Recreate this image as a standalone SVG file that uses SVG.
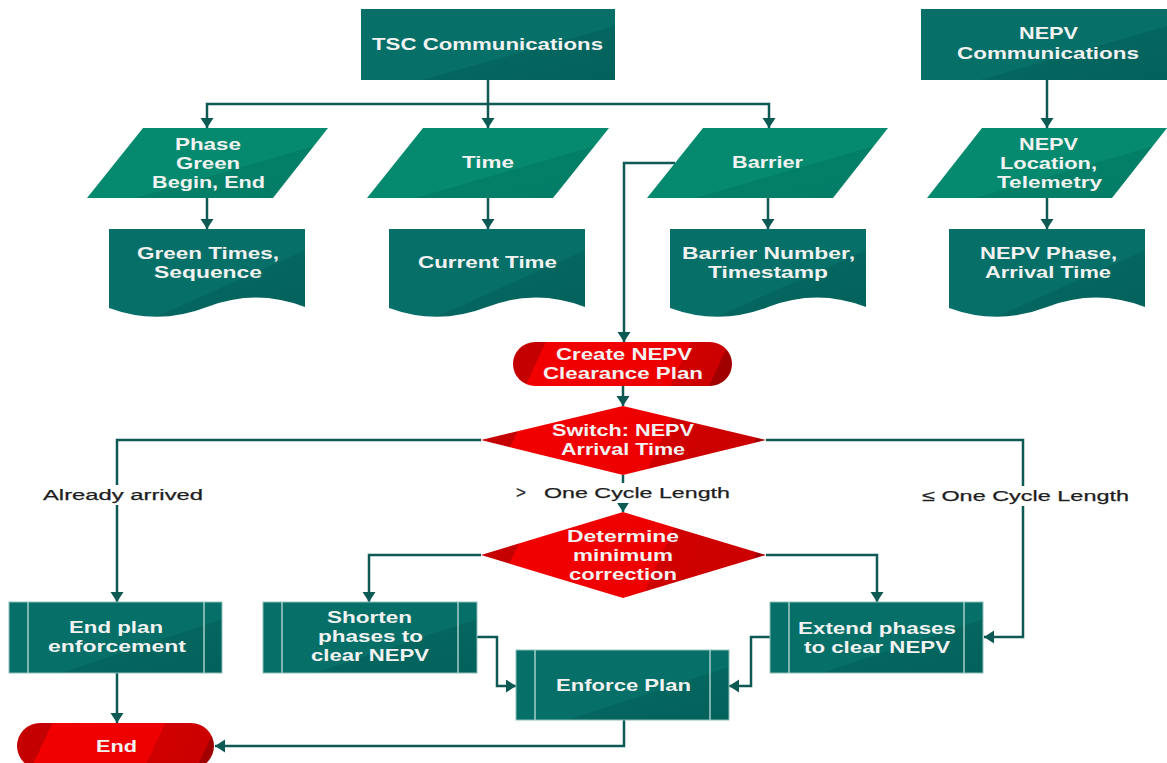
<svg xmlns="http://www.w3.org/2000/svg" width="1167" height="763" viewBox="0 0 1167 763">
<defs>
<style>
.t{font-family:"Liberation Sans",Arial,sans-serif;font-weight:bold;font-size:17px;fill:#f2f2f2}
.lbl{font-family:"Liberation Sans",Arial,sans-serif;font-size:15.5px;fill:#1e1e1e;stroke:#1e1e1e;stroke-width:0.25}
.teal{fill:url(#gTeal)}
.para{fill:url(#gPara)}
.proc{fill:url(#gTeal);stroke:#8fc0ba;stroke-width:1}
.bar{stroke:#a6cdc8;stroke-width:1.5}
.c{fill:none;stroke:#0d5a55;stroke-width:2.5}
.a{marker-end:url(#arr)}
</style>
<linearGradient id="gTeal" x1="0" y1="0" x2="1" y2="1">
<stop offset="0" stop-color="#066f68"/><stop offset="0.62" stop-color="#066f68"/>
<stop offset="0.62" stop-color="#04665f"/><stop offset="1" stop-color="#03615b"/>
</linearGradient>
<linearGradient id="gPara" x1="0" y1="0" x2="1" y2="1">
<stop offset="0" stop-color="#058a70"/><stop offset="0.6" stop-color="#058a70"/>
<stop offset="0.6" stop-color="#037f68"/><stop offset="1" stop-color="#037c66"/>
</linearGradient>
<linearGradient id="gRedCreate" gradientUnits="userSpaceOnUse" x1="513" y1="364" x2="732" y2="364" gradientTransform="rotate(25 622 364)">
<stop offset="0" stop-color="#c50000"/><stop offset="0.14" stop-color="#c50000"/>
<stop offset="0.14" stop-color="#f20000"/><stop offset="0.74" stop-color="#ee0000"/>
<stop offset="0.74" stop-color="#cf0000"/><stop offset="0.9" stop-color="#cc0000"/>
<stop offset="0.9" stop-color="#a30000"/><stop offset="1" stop-color="#9a0000"/>
</linearGradient>
<linearGradient id="gRedSwitch" gradientUnits="userSpaceOnUse" x1="481" y1="440" x2="766" y2="440" gradientTransform="rotate(25 623 440)">
<stop offset="0" stop-color="#c50000"/><stop offset="0.15" stop-color="#c50000"/>
<stop offset="0.15" stop-color="#f20000"/><stop offset="0.62" stop-color="#ee0000"/>
<stop offset="0.62" stop-color="#cf0000"/><stop offset="0.92" stop-color="#cc0000"/>
<stop offset="0.92" stop-color="#a30000"/><stop offset="1" stop-color="#9a0000"/>
</linearGradient>
<linearGradient id="gRedDet" gradientUnits="userSpaceOnUse" x1="481" y1="555" x2="766" y2="555" gradientTransform="rotate(25 623 555)">
<stop offset="0" stop-color="#c50000"/><stop offset="0.15" stop-color="#c50000"/>
<stop offset="0.15" stop-color="#f20000"/><stop offset="0.62" stop-color="#ee0000"/>
<stop offset="0.62" stop-color="#cf0000"/><stop offset="0.92" stop-color="#cc0000"/>
<stop offset="0.92" stop-color="#a30000"/><stop offset="1" stop-color="#9a0000"/>
</linearGradient>
<linearGradient id="gRedEnd" gradientUnits="userSpaceOnUse" x1="17" y1="746" x2="214" y2="746" gradientTransform="rotate(25 115 746)">
<stop offset="0" stop-color="#c50000"/><stop offset="0.16" stop-color="#c50000"/>
<stop offset="0.16" stop-color="#f20000"/><stop offset="0.68" stop-color="#ee0000"/>
<stop offset="0.68" stop-color="#cf0000"/><stop offset="0.92" stop-color="#cc0000"/>
<stop offset="0.92" stop-color="#a30000"/><stop offset="1" stop-color="#9a0000"/>
</linearGradient>
<marker id="arr" markerUnits="userSpaceOnUse" markerWidth="11" markerHeight="14" refX="10" refY="6.5" orient="auto">
<path d="M0,0 L10,6.5 L0,13 Z" fill="#0d5a55"/>
</marker>
</defs>
<rect width="1167" height="763" fill="#ffffff"/>

<g id="connectors">
<path class="c a" d="M488,80 V128"/>
<path class="c a" d="M488,104 H207 V128"/>
<path class="c a" d="M488,104 H769 V128"/>
<path class="c a" d="M1047,80 V128"/>
<path class="c a" d="M207,198 V229"/>
<path class="c a" d="M488,198 V229"/>
<path class="c a" d="M768,198 V229"/>
<path class="c a" d="M1047,198 V229"/>
<path class="c a" d="M675,163 H624 V342"/>
<path class="c a" d="M623,386 V406"/>
<path class="c a" d="M481,440 H117 V602"/>
<path class="c a" d="M766,440 H1023 V637 H984"/>
<path class="c a" d="M623,475 V512"/>
<path class="c a" d="M481,555 H369 V602"/>
<path class="c a" d="M766,555 H877 V602"/>
<path class="c a" d="M477,637 H497 V686 H516"/>
<path class="c a" d="M770,637 H751 V686 H729"/>
<path class="c a" d="M117,673 V723"/>
<path class="c a" d="M624,720 V746 H215"/>
<g id="labels">
<rect x="40" y="485" width="166" height="20" fill="#ffffff"/>
<text class="lbl" x="43" y="500" textLength="160" lengthAdjust="spacingAndGlyphs">Already arrived</text>
<rect x="512" y="483" width="222" height="20" fill="#ffffff"/>
<text class="lbl" x="516" y="498" style="font-size:17px">&gt;</text>
<text class="lbl" x="544" y="498" textLength="186" lengthAdjust="spacingAndGlyphs">One Cycle Length</text>
<rect x="919" y="486" width="213" height="20" fill="#ffffff"/>
<text class="lbl" x="922" y="501" textLength="207" lengthAdjust="spacingAndGlyphs">≤ One Cycle Length</text>
</g>
</g>

<g id="tsc">
<rect class="teal" x="361" y="9" width="254" height="71"/>
<text class="t" x="372" y="50" textLength="231" lengthAdjust="spacingAndGlyphs">TSC Communications</text>
</g>
<g id="nepvcomm">
<rect class="teal" x="921" y="9" width="246" height="71"/>
<text class="t" x="1019" y="39" textLength="59" lengthAdjust="spacingAndGlyphs">NEPV</text>
<text class="t" x="957" y="59" textLength="182" lengthAdjust="spacingAndGlyphs">Communications</text>
</g>

<g id="phase">
<polygon class="para" points="143,128 328,128 273,198 87,198"/>
<text class="t" x="175" y="150" textLength="66" lengthAdjust="spacingAndGlyphs">Phase</text>
<text class="t" x="176" y="169" textLength="64" lengthAdjust="spacingAndGlyphs">Green</text>
<text class="t" x="152" y="188" textLength="113" lengthAdjust="spacingAndGlyphs">Begin, End</text>
</g>
<g id="time">
<polygon class="para" points="423,128 609,128 553,198 367,198"/>
<text class="t" x="462" y="168" textLength="52" lengthAdjust="spacingAndGlyphs">Time</text>
</g>
<g id="barrier">
<polygon class="para" points="703,128 888,128 833,198 647,198"/>
<text class="t" x="732" y="168" textLength="71" lengthAdjust="spacingAndGlyphs">Barrier</text>
</g>
<g id="nepvloc">
<polygon class="para" points="982,128 1167,128 1112,198 927,198"/>
<text class="t" x="1019" y="150" textLength="59" lengthAdjust="spacingAndGlyphs">NEPV</text>
<text class="t" x="1000" y="169" textLength="97" lengthAdjust="spacingAndGlyphs">Location,</text>
<text class="t" x="997" y="188" textLength="105" lengthAdjust="spacingAndGlyphs">Telemetry</text>
</g>

<g id="greentimes">
<path class="teal" d="M109,229 H305 V307 Q256,288 207,307 Q158,326 109,308 Z"/>
<text class="t" x="137" y="259" textLength="142" lengthAdjust="spacingAndGlyphs">Green Times,</text>
<text class="t" x="154" y="278" textLength="108" lengthAdjust="spacingAndGlyphs">Sequence</text>
</g>
<g id="currenttime">
<path class="teal" d="M389,229 H585 V307 Q536,288 487,307 Q438,326 389,308 Z"/>
<text class="t" x="418" y="268" textLength="139" lengthAdjust="spacingAndGlyphs">Current Time</text>
</g>
<g id="barriernum">
<path class="teal" d="M670,229 H866 V307 Q817,288 768,307 Q719,326 670,308 Z"/>
<text class="t" x="682" y="259" textLength="173" lengthAdjust="spacingAndGlyphs">Barrier Number,</text>
<text class="t" x="708" y="278" textLength="120" lengthAdjust="spacingAndGlyphs">Timestamp</text>
</g>
<g id="nepvphase">
<path class="teal" d="M949,229 H1145 V307 Q1096,288 1047,307 Q998,326 949,308 Z"/>
<text class="t" x="980" y="259" textLength="137" lengthAdjust="spacingAndGlyphs">NEPV Phase,</text>
<text class="t" x="985" y="278" textLength="126" lengthAdjust="spacingAndGlyphs">Arrival Time</text>
</g>

<g id="create">
<rect fill="url(#gRedCreate)" x="513" y="342" width="219" height="44" rx="22"/>
<text class="t" x="556" y="360" textLength="136" lengthAdjust="spacingAndGlyphs">Create NEPV</text>
<text class="t" x="543" y="379" textLength="160" lengthAdjust="spacingAndGlyphs">Clearance Plan</text>
</g>
<g id="switch">
<polygon fill="url(#gRedSwitch)" points="623,406 766,440 623,475 481,440"/>
<text class="t" x="552" y="436" textLength="142" lengthAdjust="spacingAndGlyphs">Switch: NEPV</text>
<text class="t" x="561" y="455" textLength="124" lengthAdjust="spacingAndGlyphs">Arrival Time</text>
</g>
<g id="determine">
<polygon fill="url(#gRedDet)" points="623,512 766,555 623,598 481,555"/>
<text class="t" x="567" y="542" textLength="112" lengthAdjust="spacingAndGlyphs">Determine</text>
<text class="t" x="573" y="561" textLength="100" lengthAdjust="spacingAndGlyphs">minimum</text>
<text class="t" x="569" y="580" textLength="108" lengthAdjust="spacingAndGlyphs">correction</text>
</g>

<g id="endplan">
<rect class="proc" x="9" y="602" width="213" height="71"/>
<line class="bar" x1="28" y1="602" x2="28" y2="673"/>
<line class="bar" x1="204" y1="602" x2="204" y2="673"/>
<text class="t" x="69" y="633" textLength="94" lengthAdjust="spacingAndGlyphs">End plan</text>
<text class="t" x="48" y="652" textLength="138" lengthAdjust="spacingAndGlyphs">enforcement</text>
</g>
<g id="shorten">
<rect class="proc" x="263" y="602" width="214" height="71"/>
<line class="bar" x1="282" y1="602" x2="282" y2="673"/>
<line class="bar" x1="458" y1="602" x2="458" y2="673"/>
<text class="t" x="327" y="623" textLength="85" lengthAdjust="spacingAndGlyphs">Shorten</text>
<text class="t" x="318" y="642" textLength="105" lengthAdjust="spacingAndGlyphs">phases to</text>
<text class="t" x="311" y="661" textLength="118" lengthAdjust="spacingAndGlyphs">clear NEPV</text>
</g>
<g id="extend">
<rect class="proc" x="770" y="602" width="213" height="71"/>
<line class="bar" x1="789" y1="602" x2="789" y2="673"/>
<line class="bar" x1="964" y1="602" x2="964" y2="673"/>
<text class="t" x="798" y="634" textLength="158" lengthAdjust="spacingAndGlyphs">Extend phases</text>
<text class="t" x="804" y="653" textLength="146" lengthAdjust="spacingAndGlyphs">to clear NEPV</text>
</g>
<g id="enforce">
<rect class="proc" x="516" y="650" width="213" height="70"/>
<line class="bar" x1="535" y1="650" x2="535" y2="720"/>
<line class="bar" x1="710" y1="650" x2="710" y2="720"/>
<text class="t" x="556" y="691" textLength="135" lengthAdjust="spacingAndGlyphs">Enforce Plan</text>
</g>
<g id="end">
<rect fill="url(#gRedEnd)" x="17" y="723" width="197" height="46" rx="23"/>
<text class="t" x="96" y="752" textLength="41" lengthAdjust="spacingAndGlyphs">End</text>
</g>
</svg>
